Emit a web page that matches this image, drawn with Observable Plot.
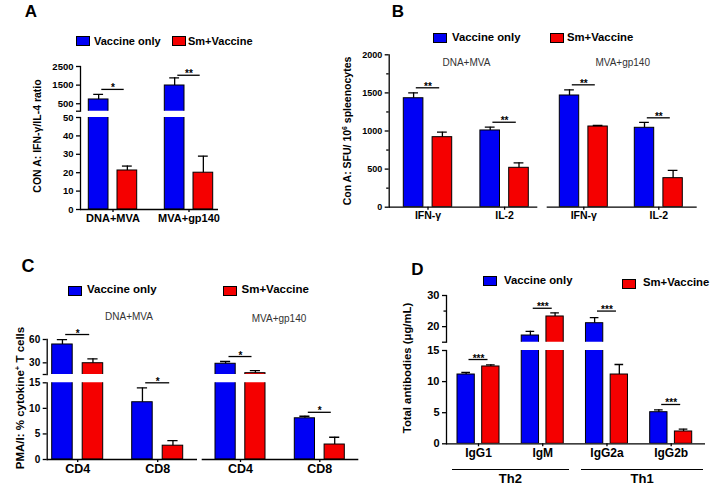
<!DOCTYPE html>
<html><head><meta charset="utf-8">
<script src="https://cdn.jsdelivr.net/npm/d3@7"></script>
<script src="https://cdn.jsdelivr.net/npm/@observablehq/plot@0.6"></script>
<style>
body{margin:0;background:#fff;}
#fig{position:relative;width:710px;height:485px;overflow:hidden;font-family:"Liberation Sans",Arial,Helvetica,sans-serif;background:#fff;}
#fig svg{position:absolute;left:0;top:0;}
.lbl{position:absolute;white-space:nowrap;color:#000;line-height:1;}
.sw{position:absolute;box-sizing:border-box;border:1px solid #000;width:14px;height:10px;}
.grp{position:absolute;height:0;border-top:1.5px solid #000;}
</style></head><body><div id="fig"></div>
<script>
// ---------------- DATA ----------------
const series = ["Vaccine only", "Sm+Vaccine"];
const seriesColors = ["#0000f5", "#f50000"];

// Panel A: CON A IFN-γ/IL-4 ratio
const aGroups = ["DNA+MVA", "MVA+gp140"];
const aVac = [730, 1480];
const aVacSem = [268, 414];
const aSm = [21.2, 20.0];
const aSmSem = [2.4, 9.0];
const aSig = ["*", "**"];
const aSigY = [1270, 2030];

// Panel B: SFU / 10^6 splenocytes
const bGroups = ["IFN-γ", "IL-2"];
const bDnaVac = [1430, 1007];
const bDnaVacSem = [71, 43];
const bDnaSm = [919, 517];
const bDnaSmSem = [65, 66];
const bDnaSig = ["**", "**"];
const bDnaSigY = [1567, 1115];
const bMvaVac = [1466, 1042];
const bMvaVacSem = [75, 70];
const bMvaSm = [1059, 381];
const bMvaSmSem = [13, 101];
const bMvaSig = ["**", "**"];
const bMvaSigY = [1606, 1173];

// Panel C: % cytokine+ T cells
const cGroups = ["CD4", "CD8"];
const cDnaVac = [53.6, 11.2];
const cDnaVacSem = [6.2, 2.8];
const cDnaSm = [29.5, 2.7];
const cDnaSmSem = [5.7, 1.0];
const cDnaSig = ["*", "*"];
const cDnaSigY = [66.4, 15.0];
const cMvaVac = [28.8, 8.06];
const cMvaVacSem = [2.9, 0.4];
const cMvaSm = [16.7, 2.93];
const cMvaSmSem = [3.4, 1.42];
const cMvaSig = ["*", "*"];
const cMvaSigY = [38.1, 9.23];

// Panel D: total antibodies (µg/mL)
const dGroups = ["IgG1", "IgM", "IgG2a", "IgG2b"];
const dVac = [11.14, 17.15, 21.1, 5.08];
const dVacSem = [0.32, 1.35, 1.8, 0.38];
const dSm = [12.43, 23.26, 11.14, 1.98];
const dSmSem = [0.27, 1.14, 1.61, 0.37];
const dSig = ["***", "***", "***", "***"];
const dSigY = [13.55, 25.9, 25.0, 6.32];

// tick values
const aLowTicks = [0, 10, 20, 30, 40, 50];
const aHighTicks = [100, 500, 1500, 2500];
const bTicks = [0, 500, 1000, 1500, 2000];
const bMinor = [250, 750, 1250, 1750];
const cLowTicks = [0, 5, 10, 15];
const cHighTicks = [15, 30, 60];
const dLowTicks = [0, 5, 10, 15];
const dHighTicks = [15, 20, 30];
const dHighMinor = [25];

// ---------------- DRAWING ----------------
const FONT = '"Liberation Sans", Arial, Helvetica, sans-serif';
const W = 710, H = 485;
const fig = document.getElementById("fig");

function buildPanel(p) {
  const rows = p.groups.map((g, i) => ({group: g, vac: p.vac[i], vacSem: p.vacSem[i], sm: p.sm[i], smSem: p.smSem[i]}));
  const sigRows = p.groups.map((g, i) => ({group: g, label: p.sig[i], y: p.sigY[i]}));
  const n = p.groups.length;
  const bw = 2 * p.barW + p.gap;
  const step = (p.band[1] - p.band[0] - bw) / (n - 1);
  const pad = 1 - bw / step;
  const half = (p.barW + p.gap) / 2;
  const capW = p.barW / 2;
  p.segs.forEach((seg, k) => {
    const isBottom = k === 0;
    const lo = k === 0 ? -Infinity : p.segs[k - 1].domain[1];
    const hi = k === p.segs.length - 1 ? Infinity : seg.domain[1];
    const sigs = sigRows.filter(d => d.y > lo && d.y <= hi);
    const line = {stroke: "#000", strokeWidth: 1.3};
    const marks = [
      Plot.barY(rows, {x: "group", y: "vac", fill: seriesColors[0], stroke: "#000", strokeWidth: 1, insetRight: p.barW + p.gap, clip: true}),
      Plot.barY(rows, {x: "group", y: "sm", fill: seriesColors[1], stroke: "#000", strokeWidth: 1, insetLeft: p.barW + p.gap, clip: true}),
      Plot.ruleX(rows, {x: "group", y1: "vac", y2: d => d.vac + d.vacSem, dx: -half, ...line, clip: true}),
      Plot.ruleX(rows, {x: "group", y1: "sm", y2: d => d.sm + d.smSem, dx: half, ...line, clip: true}),
      Plot.tickY(rows, {x: "group", y: d => d.vac + d.vacSem, insetLeft: p.barW / 2 - capW / 2, insetRight: bw - p.barW / 2 - capW / 2, ...line, clip: true}),
      Plot.tickY(rows, {x: "group", y: d => d.sm + d.smSem, insetLeft: bw - p.barW / 2 - capW / 2, insetRight: p.barW / 2 - capW / 2, ...line, clip: true}),
      Plot.tickY(sigs, {x: "group", y: "y", insetLeft: p.sigInset, insetRight: p.sigInset, ...line}),
      Plot.text(sigs, {x: "group", y: "y", text: "label", lineAnchor: "bottom", dy: p.starDy, fontSize: p.starFont})
    ];
    if (p.showY) {
      marks.push(Plot.frame({anchor: "left", stroke: "#000", strokeWidth: 1.3}));
      marks.push(Plot.axisY({ticks: seg.ticks, tickFormat: d => (seg.hide || []).includes(d) ? "" : String(d), tickSize: 4, tickPadding: 3, fontSize: p.tickFont, label: null, strokeWidth: 1.3}));
      if (seg.minor) marks.push(Plot.axisY({ticks: seg.minor, tickFormat: () => "", tickSize: 2.5, label: null, strokeWidth: 1.3}));
    }
    if (isBottom) {
      marks.push(Plot.ruleY([0], line));
      marks.push(Plot.axisX({tickSize: 3, tickPadding: p.xPad, fontSize: p.xFont, label: null, strokeWidth: 1.3}));
    }
    const svg = Plot.plot({
      width: W, height: H,
      marginLeft: p.axisLeft, marginRight: W - p.baseRight,
      marginTop: seg.px[1], marginBottom: H - seg.px[0],
      style: {background: "transparent", fontFamily: FONT, fontWeight: "bold", fontSize: "10px", overflow: "visible"},
      x: {type: "band", domain: p.groups, range: p.band, paddingInner: pad, paddingOuter: 0, round: false, axis: null},
      y: {domain: seg.domain, range: seg.px, axis: null},
      marks
    });
    fig.appendChild(svg);
  });
}

// Panel A
buildPanel({groups: aGroups, vac: aVac, vacSem: aVacSem, sm: aSm, smSem: aSmSem, sig: aSig, sigY: aSigY,
  band: [88.3, 212.7], barW: 19.7, gap: 9, axisLeft: 80, baseRight: 218, showY: true,
  segs: [{domain: [0, 50], px: [209, 117], ticks: aLowTicks},
         {domain: [100, 2500], px: [110.7, 66], ticks: aHighTicks, hide: [100]}],
  sigInset: 13, tickFont: 9.5, xFont: 11, xPad: 2, starFont: 10, starDy: 2});

// Panel B
buildPanel({groups: bGroups, vac: bDnaVac, vacSem: bDnaVacSem, sm: bDnaSm, smSem: bDnaSmSem, sig: bDnaSig, sigY: bDnaSigY,
  band: [403.3, 528.3], barW: 19.6, gap: 9.2, axisLeft: 388.7, baseRight: 537.3, showY: true,
  segs: [{domain: [0, 2000], px: [206.7, 54.3], ticks: bTicks, minor: bMinor}],
  sigInset: 12.5, tickFont: 9, xFont: 10.5, xPad: 1, starFont: 10, starDy: 2});
buildPanel({groups: bGroups, vac: bMvaVac, vacSem: bMvaVacSem, sm: bMvaSm, smSem: bMvaSmSem, sig: bMvaSig, sigY: bMvaSigY,
  band: [559.3, 682.3], barW: 19.4, gap: 9.2, axisLeft: 546.7, baseRight: 696.7, showY: false,
  segs: [{domain: [0, 2000], px: [206.7, 54.3]}],
  sigInset: 12.5, tickFont: 9, xFont: 10.5, xPad: 1, starFont: 10, starDy: 2});

// Panel C
buildPanel({groups: cGroups, vac: cDnaVac, vacSem: cDnaVacSem, sm: cDnaSm, smSem: cDnaSmSem, sig: cDnaSig, sigY: cDnaSigY,
  band: [51.7, 182.7], barW: 20.5, gap: 10, axisLeft: 46.7, baseRight: 197, showY: true,
  segs: [{domain: [0, 15], px: [459, 382.3], ticks: cLowTicks},
         {domain: [15, 60], px: [374, 339], ticks: cHighTicks, hide: [15]}],
  sigInset: 13.5, tickFont: 10, xFont: 12.5, xPad: 2, starFont: 10, starDy: 2});
buildPanel({groups: cGroups, vac: cMvaVac, vacSem: cMvaVacSem, sm: cMvaSm, smSem: cMvaSmSem, sig: cMvaSig, sigY: cMvaSigY,
  band: [215, 344.3], barW: 20.2, gap: 9.6, axisLeft: 201.7, baseRight: 358.3, showY: false,
  segs: [{domain: [0, 15], px: [459, 382.3]},
         {domain: [15, 60], px: [374, 339]}],
  sigInset: 13.5, tickFont: 10, xFont: 12.5, xPad: 2, starFont: 10, starDy: 2});

// Panel D
buildPanel({groups: dGroups, vac: dVac, vacSem: dVacSem, sm: dSm, smSem: dSmSem, sig: dSig, sigY: dSigY,
  band: [457, 691.7], barW: 17.3, gap: 7.4, axisLeft: 446, baseRight: 705, showY: true,
  segs: [{domain: [0, 15], px: [443.3, 350], ticks: dLowTicks},
         {domain: [15, 30], px: [341.7, 295], ticks: dHighTicks, hide: [15], minor: dHighMinor}],
  sigInset: 11.5, tickFont: 11, xFont: 12, xPad: 2, starFont: 10, starDy: 2});

// ---------------- TEXT / LEGENDS ----------------
function txt(html, x, y, o = {}) {
  const d = document.createElement("div");
  d.className = "lbl";
  d.innerHTML = html;
  d.style.left = x + "px";
  d.style.top = y + "px";
  d.style.fontSize = (o.size || 11) + "px";
  d.style.fontWeight = o.weight || "bold";
  if (o.color) d.style.color = o.color;
  let t = o.anchor === "start" ? "translate(0,-50%)" : "translate(-50%,-50%)";
  if (o.rotate) t += " rotate(" + o.rotate + "deg)";
  d.style.transform = t;
  fig.appendChild(d);
}
function swatch(x, y, color) {
  const d = document.createElement("div");
  d.className = "sw";
  d.style.left = x + "px";
  d.style.top = y + "px";
  d.style.background = color;
  fig.appendChild(d);
}
function legend(items) {
  items.forEach((it, i) => {
    swatch(it.sx, it.sy, seriesColors[i]);
    txt(series[i], it.tx, it.ty, {anchor: "start", size: it.size});
  });
}

// panel letters
txt("A", 31, 10.5, {size: 17});
txt("B", 398, 10.5, {size: 17});
txt("C", 28, 266, {size: 18});
txt("D", 417.5, 268.5, {size: 17});

// legends
legend([{sx: 76, sy: 35.5, tx: 94, ty: 40.5, size: 11}, {sx: 172, sy: 35.5, tx: 188, ty: 40.5, size: 11}]);
legend([{sx: 433, sy: 33, tx: 452, ty: 38, size: 11.3}, {sx: 549.7, sy: 33, tx: 567, ty: 38, size: 11.3}]);
legend([{sx: 68, sy: 285.5, tx: 87, ty: 290, size: 11.5}, {sx: 223.3, sy: 285.5, tx: 241.5, ty: 290, size: 11.5}]);
legend([{sx: 483, sy: 276, tx: 504, ty: 280.7, size: 11.3}, {sx: 622, sy: 278.5, tx: 643, ty: 283.3, size: 11.3}]);

// y titles
txt("CON A: IFN-γ/IL-4 ratio", 37, 136, {size: 10.5, rotate: -90});
txt("Con A: SFU/ 10<sup style='font-size:0.65em;vertical-align:0.55em'>6</sup> spleenocytes", 346.7, 130.5, {size: 10.5, rotate: -90});
txt("PMA/I: % cytokine<sup style='font-size:0.65em;vertical-align:0.55em'>+</sup> T cells", 20, 397.5, {size: 11.5, rotate: -90});
txt("Total antibodies (μg/mL)", 408, 368, {size: 11.3, rotate: -90});

// sub-titles
txt("DNA+MVA", 466.4, 63.3, {size: 10, weight: "normal", color: "#333"});
txt("MVA+gp140", 622.7, 62.5, {size: 10, weight: "normal", color: "#333"});
txt("DNA+MVA", 129, 317.3, {size: 10, weight: "normal", color: "#333"});
txt("MVA+gp140", 279, 319, {size: 10, weight: "normal", color: "#333"});

// Th2 / Th1 group brackets
const thGroups = ["Th2", "Th1"];
[[451.7, 569], [581, 703.3]].forEach(([x0, x1], i) => {
  const d = document.createElement("div");
  d.className = "grp";
  d.style.left = x0 + "px";
  d.style.top = "468.5px";
  d.style.width = (x1 - x0) + "px";
  fig.appendChild(d);
  txt(thGroups[i], (x0 + x1) / 2, 477.5, {size: 13});
});
</script></body></html>
